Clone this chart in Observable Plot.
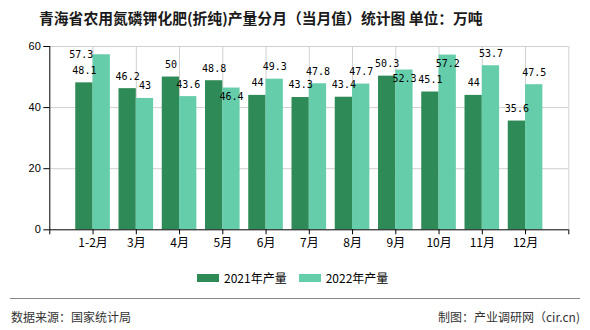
<!DOCTYPE html>
<html>
<head>
<meta charset="utf-8">
<script src="https://cdn.jsdelivr.net/npm/d3@7"></script>
<script src="https://cdn.jsdelivr.net/npm/@observablehq/plot@0.6"></script>
<style>
  html, body { margin: 0; padding: 0; background: #fff; }
  #wrap { position: relative; width: 590px; height: 330px; overflow: hidden; font-family: "Noto Sans CJK SC", sans-serif; }
  #title { position: absolute; left: 39px; top: 7px; font-size: 16px; font-weight: bold; color: #1a1a1a; line-height: 20px; white-space: nowrap; }
  #chart { position: absolute; left: 0; top: 0; }
  #legend { position: absolute; left: 0; top: 269px; width: 590px; height: 18px; }
  .lg { position: absolute; top: 0; font-size: 12px; line-height: 18px; color: #000; white-space: nowrap; }
  .sw { position: absolute; top: 4.5px; width: 22px; height: 8.5px; }
  #rule { position: absolute; left: 10px; width: 570px; top: 297.5px; height: 0; border-top: 1.5px solid #888; }
  .foot { position: absolute; top: 308px; font-size: 12px; line-height: 18px; color: #333; white-space: nowrap; }
</style>
</head>
<body>
<div id="wrap">
  <div id="chart"></div>
  <span id="title"></span>
  <div id="legend"></div>
  <div id="rule"></div>
  <div class="foot" id="src" style="left:11px;"></div>
  <div class="foot" id="maker" style="right:10px;"></div>
</div>
<script>
const title = "青海省农用氮磷钾化肥(折纯)产量分月（当月值）统计图 单位：万吨";
const months = ["1-2月","3月","4月","5月","6月","7月","8月","9月","10月","11月","12月"];
const seriesNames = ["2021年产量","2022年产量"];
const values2021 = [48.1,46.2,50,48.8,44,43.3,43.4,50.3,45.1,44,35.6];
const values2022 = [57.3,43,43.6,46.4,49.3,47.8,47.7,52.3,57.2,53.7,47.5];
const yTicks = [0,20,40,60];
const sourceText = "数据来源：国家统计局";
const makerText = "制图：产业调研网（cir.cn)";

const colors = ["#2e8b57","#66cdaa"];
const barW = 0.4;

const titleEl = document.getElementById("title");
titleEl.textContent = title;
const tw = titleEl.getBoundingClientRect().width;
if (tw > 0) {
  const fs = 16 * 444 / tw;
  titleEl.style.fontSize = fs.toFixed(2) + "px";
  titleEl.style.top = (17.5 - 10) + "px";
}
document.getElementById("src").textContent = sourceText;
document.getElementById("maker").textContent = makerText;

const rows = [];
months.forEach((m, k) => {
  rows.push({s: 0, i: k + 1, v: values2021[k]});
  rows.push({s: 1, i: k + 1, v: values2022[k]});
});

// label placement tweaks (mimicking the original's overlap shifting)
const shift = {"1-1": [-20.5, 12.3], "1-4": [0, 20.8], "1-8": [0, 20.8], "1-9": [0, 20.7]};
const lx = d => (shift[d.s + "-" + d.i] || [0, 0])[0];
const ly = d => (shift[d.s + "-" + d.i] || [0, 0])[1];

const labelFont = "'DejaVu Sans Mono', 'Liberation Mono', monospace";

const plot = Plot.plot({
  width: 590,
  height: 255,
  marginLeft: 49.3,
  marginRight: 21.7,
  marginTop: 46,
  marginBottom: 25.7,
  style: {background: "transparent", overflow: "visible"},
  x: {type: "linear", domain: [0, 12], axis: null},
  y: {type: "linear", domain: [0, 60], axis: null},
  marks: [
    Plot.ruleY(yTicks.filter(t => t > 0), {x1: 0, x2: 12, stroke: "#d0d0d0", strokeWidth: 1}),
    Plot.ruleX(d3.range(1, 13), {y1: 0, y2: 60, stroke: "#d0d0d0", strokeWidth: 1}),
    Plot.rect(rows, {
      x1: d => d.s === 0 ? d.i - barW : d.i,
      x2: d => d.s === 0 ? d.i : d.i + barW,
      y1: 0, y2: "v",
      fill: d => colors[d.s]
    }),
    // y axis
    Plot.ruleX([0], {y1: 0, y2: 60, stroke: "#000", strokeWidth: 1}),
    Plot.axisY({ticks: yTicks, tickSize: 6, tickPadding: 3, tickFormat: d => String(d), label: null,
      fontSize: 11, fontFamily: "'Liberation Sans', Arial, sans-serif", stroke: "#000", color: "#000"}),
    // x axis
    Plot.ruleY([0], {x1: 0, x2: 12, stroke: "#000", strokeWidth: 1}),
    Plot.axisX({ticks: d3.range(0, 13), tickSize: 5, tickPadding: 4, label: null,
      tickFormat: i => months[i - 1] ?? "", fontSize: 12,
      fontFamily: "'Noto Sans CJK SC', sans-serif", stroke: "#000", color: "#000"}),
    // value labels
    Plot.text(rows.filter(d => !shift[d.s + "-" + d.i]), {
      x: d => d.s === 0 ? d.i - barW / 2 : d.i + barW / 2,
      y: "v",
      text: d => String(d.v),
      dy: -12.3,
      fontSize: 10, fontFamily: labelFont, fill: "#000", textAnchor: "middle", lineAnchor: "middle"
    }),
    ...Object.keys(shift).map(key => {
      const [s, i] = key.split("-").map(Number);
      const d = rows.find(r => r.s === s && r.i === i);
      return Plot.text([d], {
        x: r => r.s === 0 ? r.i - barW / 2 : r.i + barW / 2,
        y: "v",
        text: r => String(r.v),
        dx: lx(d), dy: -12.3 + ly(d),
        fontSize: 10, fontFamily: labelFont, fill: "#000", textAnchor: "middle", lineAnchor: "middle"
      });
    })
  ]
});
document.getElementById("chart").appendChild(plot);

// legend
const legend = document.getElementById("legend");
const lgPos = [[196.7, 224], [299, 325.7]];
seriesNames.forEach((name, k) => {
  const sw = document.createElement("div");
  sw.className = "sw";
  sw.style.left = lgPos[k][0] + "px";
  sw.style.background = colors[k];
  legend.appendChild(sw);
  const t = document.createElement("div");
  t.className = "lg";
  t.style.left = lgPos[k][1] + "px";
  t.textContent = name;
  legend.appendChild(t);
});
</script>
</body>
</html>
